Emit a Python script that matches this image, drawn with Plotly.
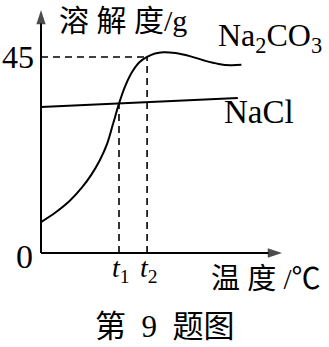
import plotly.graph_objects as go

# ---- data (arbitrary temperature units) ----
na2co3_t = [0, 6, 12, 17, 21, 24.5, 27.5, 30, 32.5, 35, 38, 41, 44.2, 47.5, 51, 56, 62, 68, 74, 79, 83.5]
na2co3_s = [7.1, 9.3, 12.0, 15.0, 18.0, 21.3, 25.0, 29.6, 34.3, 38.2, 41.6, 43.8, 45.0, 45.8, 46.1, 45.9, 45.2, 44.2, 43.4, 43.1, 43.2]
nacl_t = [0, 82]
nacl_s = [33.5, 35.6]
t_marks = [32.5, 44.2]
t_labels = ["<i>t</i><sub>1</sub>", "<i>t</i><sub>2</sub>"]
s_mark = 45
y_ticks = [45, 0]
y_tick_labels = ["45", "0"]

# ---- layout constants ----
W, H = 329, 347
X0_PX, XS = 41, 2.4      # pixel of x=0, pixels per unit
Y0_PX, YS = 253, 4.356   # pixel of y=0, pixels per unit
x_range = [(0 - X0_PX) / XS, (W - X0_PX) / XS]
y_range = [(Y0_PX - H) / YS, (Y0_PX - 0) / YS]
x_axis_end = (282 - X0_PX) / XS
y_axis_end = (Y0_PX - 10) / YS

SERIF = "Liberation Serif, Times New Roman, serif"
CJK = "Liberation Serif, Noto Sans CJK SC, serif"

def nacl_at(t):
    return nacl_s[0] + (nacl_s[1] - nacl_s[0]) * (t - nacl_t[0]) / (nacl_t[1] - nacl_t[0])

fig = go.Figure()

dash = "7px,5px"
# dashed guides
fig.add_trace(go.Scatter(x=[0, t_marks[1]], y=[s_mark, s_mark], mode="lines",
                         line=dict(color="black", width=1.6, dash=dash), hoverinfo="skip"))
fig.add_trace(go.Scatter(x=[t_marks[1], t_marks[1]], y=[0, s_mark], mode="lines",
                         line=dict(color="black", width=1.6, dash=dash), hoverinfo="skip"))
fig.add_trace(go.Scatter(x=[t_marks[0], t_marks[0]], y=[0, nacl_at(t_marks[0])], mode="lines",
                         line=dict(color="black", width=1.6, dash=dash), hoverinfo="skip"))

# axes with arrowheads
arrow_marker = dict(symbol=["circle", "arrow"], size=[0, 15], color="black", angleref="previous",
                    line=dict(width=0))
fig.add_trace(go.Scatter(x=[0, x_axis_end], y=[0, 0], mode="lines+markers",
                         line=dict(color="black", width=2), marker=arrow_marker, hoverinfo="skip"))
fig.add_trace(go.Scatter(x=[0, 0], y=[0, y_axis_end], mode="lines+markers",
                         line=dict(color="black", width=2), marker=arrow_marker, hoverinfo="skip"))

# curves
fig.add_trace(go.Scatter(x=na2co3_t, y=na2co3_s, mode="lines", line_shape="spline",
                         line=dict(color="black", width=2, smoothing=1), name="Na2CO3"))
fig.add_trace(go.Scatter(x=nacl_t, y=nacl_s, mode="lines",
                         line=dict(color="black", width=2), name="NaCl"))

ann = []
# y tick labels
ann.append(dict(x=-2.0, y=y_ticks[0], text=y_tick_labels[0], showarrow=False, xanchor="right",
                yanchor="middle", font=dict(family=SERIF, size=32, color="black")))
ann.append(dict(x=-2.6, y=y_ticks[1] - 0.7, text=y_tick_labels[1], showarrow=False, xanchor="right",
                yanchor="middle", font=dict(family=SERIF, size=34, color="black")))
# x tick labels
for t, lab in zip(t_marks, t_labels):
    ann.append(dict(x=t + 1.0, y=-3.9, text=lab, showarrow=False, xanchor="center", yanchor="middle",
                    font=dict(family=SERIF, size=28, color="black")))

# axis titles
ann.append(dict(x=34.2, y=53.3, text="溶 解 度/g", showarrow=False, xanchor="center", yanchor="middle",
                font=dict(family=CJK, size=30, color="black")))
ann.append(dict(x=93.75, y=-6.0, text="温 度 /℃", showarrow=False, xanchor="center", yanchor="middle",
                font=dict(family=CJK, size=29, color="black")))
# series labels
ann.append(dict(x=(216 - X0_PX) / XS, y=49.4, text="Na<sub>2</sub>CO<sub>3</sub>", showarrow=False,
                xanchor="left", yanchor="middle", font=dict(family=SERIF, size=32, color="black")))
ann.append(dict(x=90.8, y=32.4, text="NaCl", showarrow=False, xanchor="center", yanchor="middle",
                font=dict(family=SERIF, size=33, color="black")))
# caption
ann.append(dict(x=51.7, y=-16.8, text="第\u20029\u2002题图", showarrow=False, xanchor="center",
                yanchor="middle", font=dict(family=CJK, size=31, color="black")))

fig.update_layout(
    width=W, height=H, margin=dict(l=0, r=0, t=0, b=0),
    paper_bgcolor="white", plot_bgcolor="white", showlegend=False,
    xaxis=dict(range=x_range, visible=False, fixedrange=True),
    yaxis=dict(range=y_range, visible=False, fixedrange=True),
    annotations=ann,
)

fig.write_html("out.html", config={"displayModeBar": False})
